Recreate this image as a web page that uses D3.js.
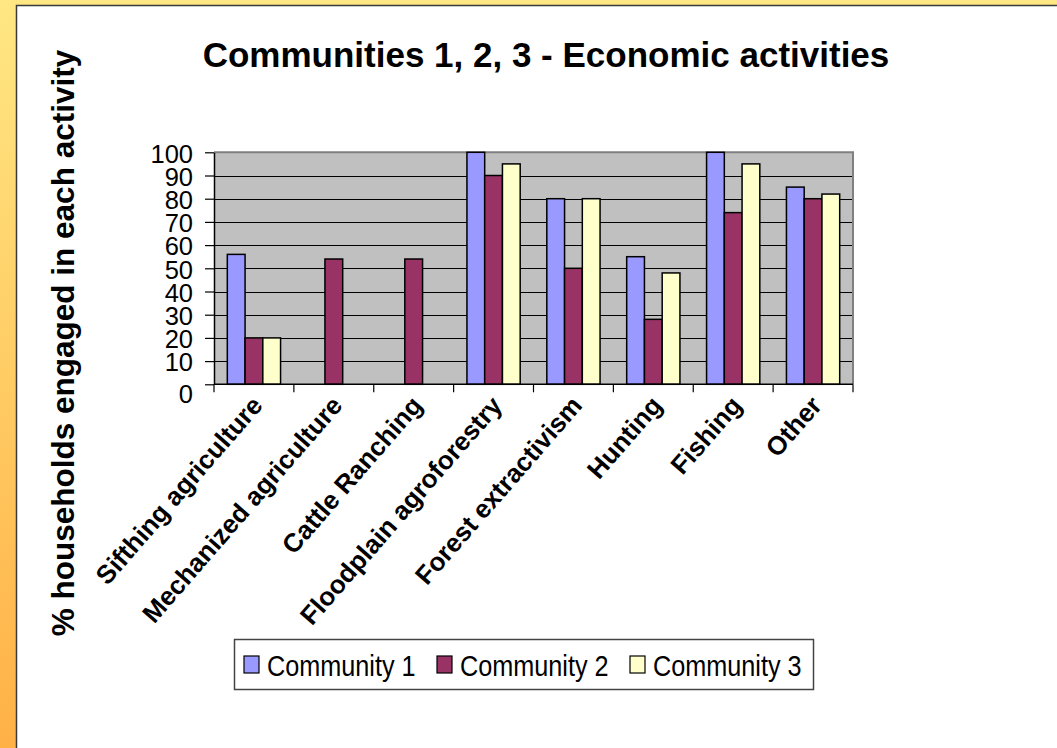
<!DOCTYPE html>
<html>
<head>
<meta charset="utf-8">
<script src="https://cdn.jsdelivr.net/npm/d3@7"></script>
<style>
  html, body { margin: 0; padding: 0; background: #fff; }
  svg { display: block; }
  text { font-family: "Liberation Sans", Arial, sans-serif; fill: #000; }
</style>
</head>
<body>
<svg id="chart" width="1057" height="748"></svg>
<script>
const categories = ["Sifthing agriculture", "Mechanized agriculture", "Cattle Ranching",
  "Floodplain agroforestry", "Forest extractivism", "Hunting", "Fishing", "Other"];
const seriesNames = ["Community 1", "Community 2", "Community 3"];
const community1 = [56, 0, 0, 100, 80, 55, 100, 85];
const community2 = [20, 54, 54, 90, 50, 28, 74, 80];
const community3 = [20, 0, 0, 95, 80, 48, 95, 82];
const yTickValues = [0, 10, 20, 30, 40, 50, 60, 70, 80, 90, 100];
const titleText = "Communities 1, 2, 3 - Economic activities";
const yAxisTitle = "% households engaged in each activity";

const seriesValues = [community1, community2, community3];
const colors = ["#9999FF", "#993366", "#FFFFCC"];

const W = 1057, H = 748;
const svg = d3.select("#chart");

// background frame
const defs = svg.append("defs");
const grad = defs.append("linearGradient").attr("id", "bg").attr("x1", 0).attr("y1", 0).attr("x2", 0).attr("y2", 1);
grad.append("stop").attr("offset", "0%").attr("stop-color", "#FFE783");
grad.append("stop").attr("offset", "100%").attr("stop-color", "#FFB146");
svg.append("rect").attr("width", W).attr("height", H).attr("fill", "url(#bg)");
svg.append("rect").attr("x", 16.5).attr("y", 5.5).attr("width", W).attr("height", H)
  .attr("fill", "#fff").attr("stroke", "#3a3a3a").attr("stroke-width", 1.5);

// plot area
const plot = { left: 214, top: 152.3, right: 853, bottom: 384.3 };

const x = d3.scaleBand().domain(categories).range([plot.left, plot.right]).padding(0);
const xs = d3.scaleBand().domain(seriesNames).range([0, x.bandwidth()])
  .paddingInner(0).paddingOuter(0.75);
const y = d3.scaleLinear().domain([0, 100]).range([plot.bottom, plot.top]);

svg.append("rect").attr("x", plot.left).attr("y", plot.top)
  .attr("width", plot.right - plot.left).attr("height", plot.bottom - plot.top)
  .attr("fill", "#C0C0C0");

// gridlines
svg.append("g").selectAll("line").data(yTickValues.filter(v => v > 0 && v < 100)).join("line")
  .attr("x1", plot.left).attr("x2", plot.right)
  .attr("y1", d => Math.round(y(d)) + 0.5).attr("y2", d => Math.round(y(d)) + 0.5)
  .attr("stroke", "#000").attr("stroke-width", 1);

// plot border (top & right gray)
svg.append("path")
  .attr("d", `M${plot.left},${plot.top}H${plot.right}V${plot.bottom}`)
  .attr("fill", "none").attr("stroke", "#808080").attr("stroke-width", 2);

// bars
const barData = [];
categories.forEach((c, i) => {
  seriesNames.forEach((s, j) => {
    const v = seriesValues[j][i];
    if (v > 0) barData.push({ c, s, v, j });
  });
});
svg.append("g").selectAll("rect").data(barData).join("rect")
  .attr("x", d => x(d.c) + xs(d.s))
  .attr("y", d => y(d.v))
  .attr("width", xs.bandwidth())
  .attr("height", d => y(0) - y(d.v))
  .attr("fill", d => colors[d.j])
  .attr("stroke", "#000").attr("stroke-width", 1.5);

// y axis
const yAxis = d3.axisLeft(y).tickValues(yTickValues).tickSize(9).tickSizeOuter(0).tickFormat(d3.format("d"));
const gy = svg.append("g").attr("transform", `translate(${plot.left},0)`).call(yAxis);
gy.select(".domain").attr("stroke", "#000").attr("stroke-width", 1.5);
gy.selectAll(".tick line").attr("stroke", "#000").attr("stroke-width", 1.2);
gy.selectAll(".tick text")
  .attr("x", -21).attr("dy", d => d === 0 ? "0.72em" : "0.38em")
  .style("font-size", "25.5px").style("font-family", "'Liberation Sans', Arial, sans-serif")
  .attr("fill", "#000");

// x axis (ticks at category boundaries)
svg.append("line").attr("x1", plot.left).attr("x2", plot.right)
  .attr("y1", plot.bottom).attr("y2", plot.bottom)
  .attr("stroke", "#000").attr("stroke-width", 1.5);
const boundaries = categories.map(c => x(c)).concat([plot.right]);
svg.append("g").selectAll("line").data(boundaries).join("line")
  .attr("x1", d => d).attr("x2", d => d)
  .attr("y1", plot.bottom).attr("y2", plot.bottom + 8)
  .attr("stroke", "#000").attr("stroke-width", 1.2);

// x labels
svg.append("g").selectAll("text").data(categories).join("text")
  .attr("transform", d => `translate(${x(d) + x.bandwidth() / 2 + 10},${plot.bottom + 22}) rotate(-49)`)
  .attr("text-anchor", "end")
  .style("font-size", "26px").style("font-weight", "bold")
  .text(d => d);

// title
svg.append("text").attr("x", 546).attr("y", 67).attr("text-anchor", "middle")
  .style("font-size", "35px").style("font-weight", "bold").text(titleText);

// y axis title
svg.append("text").attr("transform", "translate(74,343) rotate(-90)")
  .attr("text-anchor", "middle")
  .style("font-size", "31.5px").style("font-weight", "bold").text(yAxisTitle);

// legend
const legend = { x: 234, y: 639, w: 579, h: 50 };
svg.append("rect").attr("x", legend.x + 0.5).attr("y", legend.y + 0.5)
  .attr("width", legend.w).attr("height", legend.h)
  .attr("fill", "#fff").attr("stroke", "#444").attr("stroke-width", 1.5);
const lx = d3.scalePoint().domain(seriesNames).range([244, 630]);
const li = svg.append("g").selectAll("g").data(seriesNames).join("g")
  .attr("transform", d => `translate(${lx(d)},0)`);
li.append("rect").attr("x", 0).attr("y", 656).attr("width", 15).attr("height", 17)
  .attr("fill", (d, i) => colors[i]).attr("stroke", "#000").attr("stroke-width", 1.2);
li.append("text").attr("transform", "translate(23,676) scale(0.87,1)")
  .style("font-size", "29px").text(d => d);
</script>
</body>
</html>
